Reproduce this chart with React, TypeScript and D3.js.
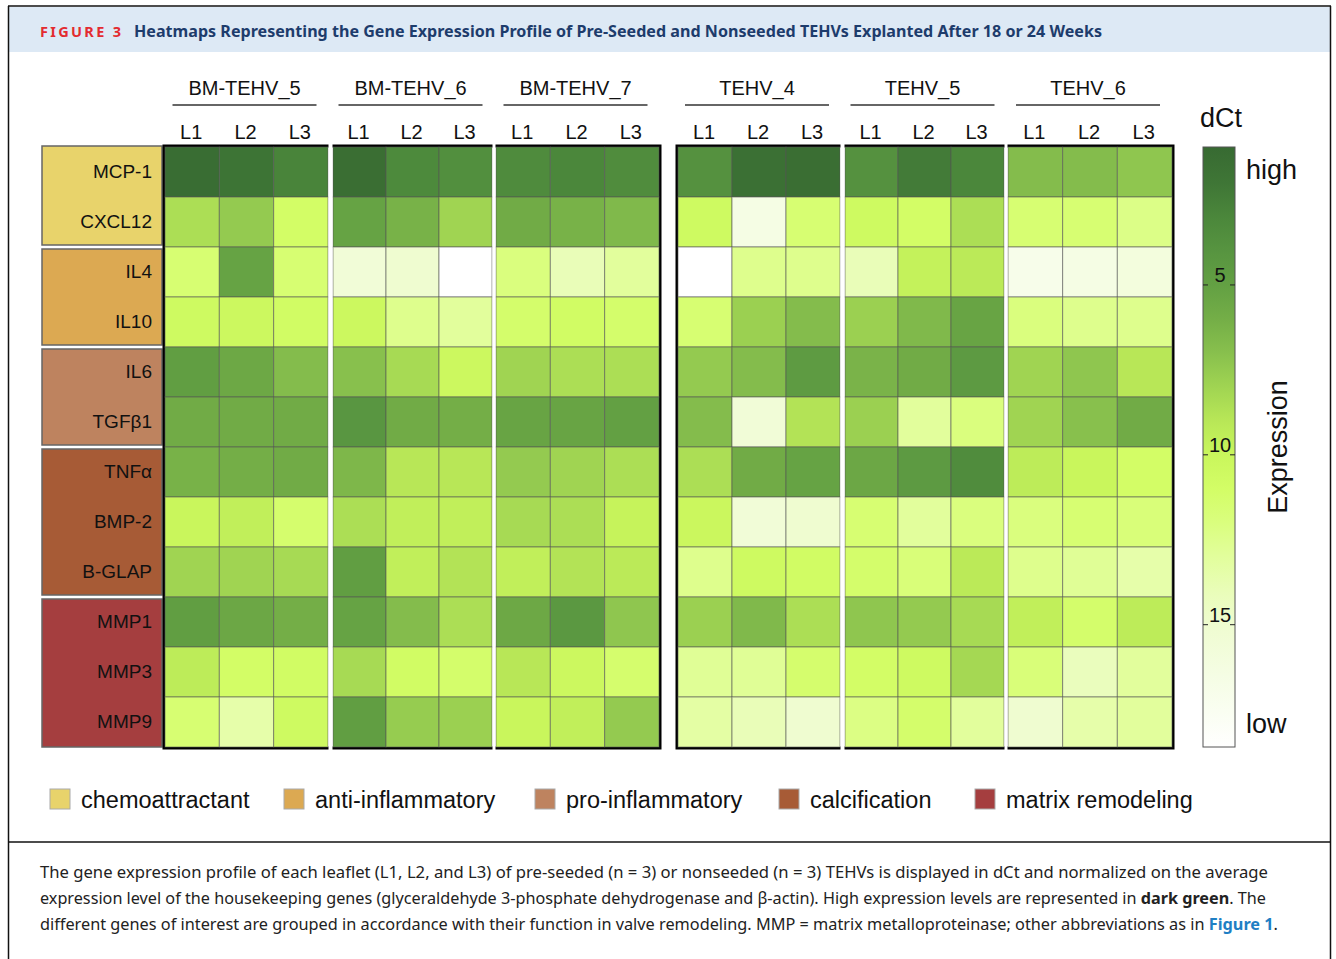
import React from 'react';
import * as d3 from 'd3';

// ---- data ----
const genes = ['MCP-1', 'CXCL12', 'IL4', 'IL10', 'IL6', 'TGFβ1', 'TNFα', 'BMP-2', 'B-GLAP', 'MMP1', 'MMP3', 'MMP9'];
const valves = ['BM-TEHV_5', 'BM-TEHV_6', 'BM-TEHV_7', 'TEHV_4', 'TEHV_5', 'TEHV_6'];
const leaflets = ['L1', 'L2', 'L3'];
const functionNames = ['chemoattractant', 'anti-inflammatory', 'pro-inflammatory', 'calcification', 'matrix remodeling'];
const functionGeneCount = [2, 2, 2, 3, 3];
const functionColors = ['#e8d36b', '#dca952', '#be835f', '#a75b36', '#a53e3f'];

// dCt, one row per gene, 18 columns (valve x leaflet)
const mcp1 = [1.2, 1.8, 2.8, 1.3, 3.2, 3.6, 3.3, 3.0, 3.4, 3.8, 1.5, 1.3, 3.8, 2.3, 3.0, 6.8, 6.8, 7.3];
const cxcl12 = [8.5, 7.5, 11.0, 5.2, 6.2, 8.0, 5.8, 6.2, 6.6, 10.5, 16.5, 11.5, 10.5, 11.0, 8.5, 11.5, 11.5, 12.3];
const il4 = [11.5, 5.2, 11.5, 15.5, 15.0, 18.6, 12.0, 14.0, 13.0, 18.6, 12.5, 12.5, 14.0, 9.7, 9.2, 17.0, 16.5, 16.0];
const il10 = [10.5, 10.3, 10.8, 10.3, 12.5, 13.0, 11.2, 10.8, 11.2, 11.5, 7.8, 6.8, 7.8, 6.6, 5.3, 12.0, 12.5, 12.5];
const il6 = [4.8, 5.6, 6.8, 7.0, 8.3, 10.3, 8.0, 8.5, 8.5, 7.5, 6.8, 4.6, 6.3, 5.8, 4.5, 8.0, 7.3, 9.0];
const tgfb1 = [5.8, 5.8, 5.8, 4.2, 5.8, 6.0, 5.3, 5.3, 5.0, 6.8, 15.5, 8.8, 7.8, 13.0, 12.0, 8.0, 7.0, 5.8];
const tnfa = [6.2, 6.0, 5.8, 6.5, 9.0, 9.0, 7.5, 8.0, 8.5, 8.5, 5.8, 5.2, 5.5, 4.5, 3.4, 9.3, 10.0, 11.0];
const bmp2 = [10.0, 9.5, 11.3, 8.5, 9.5, 9.5, 8.3, 8.5, 9.8, 10.2, 15.5, 15.0, 11.5, 13.0, 12.0, 12.0, 11.5, 11.8];
const bglap = [8.0, 8.0, 8.3, 4.8, 9.5, 8.8, 9.5, 8.8, 9.2, 12.5, 10.5, 10.8, 11.2, 11.8, 9.2, 12.5, 12.8, 13.5];
const mmp1 = [4.8, 5.5, 6.0, 5.2, 6.8, 8.5, 5.6, 4.3, 7.3, 7.8, 6.6, 8.5, 7.3, 7.5, 8.3, 9.5, 11.2, 9.3];
const mmp3 = [9.3, 11.0, 10.8, 8.3, 10.8, 11.2, 9.0, 10.3, 11.3, 12.8, 12.8, 11.3, 11.0, 10.5, 8.2, 11.8, 14.2, 13.0];
const mmp9 = [11.5, 13.5, 10.5, 4.8, 7.6, 7.8, 10.0, 9.5, 7.5, 13.3, 14.0, 15.0, 12.2, 11.2, 13.0, 15.0, 13.5, 13.0];
const dctRows = [mcp1, cxcl12, il4, il10, il6, tgfb1, tnfa, bmp2, bglap, mmp1, mmp3, mmp9];

// colour ramp of the dCt bar
const rampDct = [0.94, 2, 3, 4, 5, 6, 7, 8, 9, 10, 11, 12, 13, 14, 15, 16.5, 18.6];
const rampColors = ['#376a32', '#3f7636', '#4b873b', '#579440', '#63a043', '#74ae47', '#88c04d', '#a0d452',
  '#b8e757', '#c9f65c', '#d3fd66', '#dafe7e', '#e2fe9c', '#e9fdb8', '#effcd0', '#f5fde4', '#ffffff'];
const barTicks = [5, 10, 15];

// ---- layout ----
const W = 1336;
const H = 959;
const blockX = [[165, 328], [333, 492], [496, 659], [678, 840], [845, 1004], [1008, 1172]];
const top = 147;
const bottom = 747;
const barX = 1203;
const barW = 32;
const font = 'Liberation Sans, Arial, sans-serif';
const capFont = 'Noto Sans, Open Sans, sans-serif';

const color = d3.scaleLinear<string>().domain(rampDct).range(rampColors).interpolate(d3.interpolateRgb);
const y = d3.scaleBand().domain(genes).range([top, bottom]);
const barY = d3.scaleLinear().domain([rampDct[0], rampDct[rampDct.length - 1]]).range([top, bottom]);
const xScales = blockX.map(([a, b]) => d3.scaleBand().domain(leaflets).range([a, b]));

const legendX = [50, 284, 535, 779, 975];

export default function App() {
  // group boxes on the left
  let start = 0;
  const groups = functionGeneCount.map((n, i) => {
    const g = { i, first: genes[start], last: genes[start + n - 1] };
    start += n;
    return g;
  });

  return (
    <svg width={W} height={H} style={{ position: 'absolute', left: 0, top: 0, background: '#fff' }} fontFamily={font}>
      <defs>
        <linearGradient id="bar" x1="0" y1="0" x2="0" y2="1">
          {rampDct.map((d, i) => (
            <stop key={i} offset={(barY(d) - top) / (bottom - top)} stopColor={rampColors[i]} />
          ))}
        </linearGradient>
      </defs>

      {/* frame + header */}
      <rect x={9} y={7} width={1321} height={45} fill="#dde9f5" />
      <line x1={8} x2={1331} y1={6} y2={6} stroke="#111" strokeWidth={1.5} />
      <line x1={8.5} x2={8.5} y1={6} y2={H} stroke="#111" strokeWidth={1.5} />
      <line x1={1330.5} x2={1330.5} y1={6} y2={H} stroke="#111" strokeWidth={1.5} />
      <line x1={8} x2={1331} y1={842} y2={842} stroke="#111" strokeWidth={1.5} />
      <text x={40} y={37} fontFamily={capFont} fontWeight={700} fontSize={14.5} fill="#e32b30"
        textLength={81} lengthAdjust="spacing">FIGURE 3</text>
      <text x={134} y={37} fontFamily={capFont} fontWeight={700} fontSize={16} fill="#1d3c6c"
        textLength={968} lengthAdjust="spacingAndGlyphs">
        Heatmaps Representing the Gene Expression Profile of Pre-Seeded and Nonseeded TEHVs Explanted After 18 or 24 Weeks
      </text>

      {/* row group boxes */}
      {groups.map(g => (
        <rect key={g.i} x={42} width={120}
          y={(y(g.first) as number) + (g.i === 0 ? -1 : 2)}
          height={(y(g.last) as number) + y.bandwidth() - (y(g.first) as number) - (g.i === 0 ? 1 : 4) + (g.i === 4 ? 2 : 0)}
          fill={functionColors[g.i]} stroke="#666" strokeWidth={1.5} />
      ))}
      {genes.map(gn => (
        <text key={gn} x={152} y={(y(gn) as number) + y.bandwidth() / 2 + 6} fontSize={19} textAnchor="end" fill="#111">{gn}</text>
      ))}

      {/* group frames */}
      {[[0, 2], [3, 5]].map(([a, b], i) => (
        <rect key={i} x={blockX[a][0] - 1} y={top - 1} width={blockX[b][1] - blockX[a][0] + 2} height={bottom - top + 2}
          fill="none" stroke="#000" strokeWidth={3} />
      ))}

      {/* cells */}
      {valves.map((v, vi) => (
        <g key={v}>
          {genes.map((gn, gi) =>
            leaflets.map((l, li) => (
              <rect key={gn + l} x={xScales[vi](l)} y={y(gn)} width={xScales[vi].bandwidth()} height={y.bandwidth()}
                fill={color(dctRows[gi][vi * 3 + li])} stroke="#555" strokeOpacity={0.6} strokeWidth={1} />
            ))
          )}
          {leaflets.map(l => (
            <text key={l} x={(xScales[vi](l) as number) + xScales[vi].bandwidth() / 2 - 1} y={139} fontSize={20} textAnchor="middle" fill="#111">{l}</text>
          ))}
          <text x={(blockX[vi][0] + blockX[vi][1]) / 2 - 2} y={95} fontSize={20} textAnchor="middle" fill="#111">{v}</text>
          <line x1={(blockX[vi][0] + blockX[vi][1]) / 2 - 74} x2={(blockX[vi][0] + blockX[vi][1]) / 2 + 70} y1={105} y2={105} stroke="#333" strokeWidth={1.5} />
        </g>
      ))}

      {/* white gaps between valves */}
      {[0, 1, 3, 4].map(i => (
        <rect key={i} x={blockX[i][1] + 0.5} y={top - 4} width={blockX[i + 1][0] - blockX[i][1] - 1} height={bottom - top + 8} fill="#fff" />
      ))}

      {/* colour bar */}
      <rect x={barX} y={top} width={barW} height={bottom - top} fill="url(#bar)" stroke="#555" strokeWidth={1} />
      {barTicks.map(t => (
        <g key={t}>
          <line x1={barX} x2={barX + 5} y1={barY(t)} y2={barY(t)} stroke="#222" />
          <line x1={barX + barW - 5} x2={barX + barW} y1={barY(t)} y2={barY(t)} stroke="#222" />
          <text x={barX + barW / 2 + 1} y={barY(t) - 3} fontSize={20} textAnchor="middle" fill="#111">{t}</text>
        </g>
      ))}
      <text x={1200} y={127} fontSize={27} fill="#111">dCt</text>
      <text x={1246} y={179} fontSize={27} fill="#111">high</text>
      <text x={1246} y={733} fontSize={27} fill="#111">low</text>
      <text transform={`translate(1287,${(top + bottom) / 2}) rotate(-90)`} fontSize={27} textAnchor="middle" fill="#111">Expression</text>

      {/* legend */}
      {functionNames.map((f, i) => (
        <g key={f}>
          <rect x={legendX[i]} y={789} width={20} height={20} fill={functionColors[i]} stroke="#aaa" strokeWidth={1} />
          <text x={legendX[i] + 31} y={808} fontSize={23.5} fill="#111">{f}</text>
        </g>
      ))}

      {/* caption */}
      <g fontFamily={capFont} fontSize={16} fill="#222">
        <text x={40} y={878} textLength={1228} lengthAdjust="spacingAndGlyphs">
          The gene expression profile of each leaflet (L1, L2, and L3) of pre-seeded (n = 3) or nonseeded (n = 3) TEHVs is displayed in dCt and normalized on the average
        </text>
        <text x={40} y={904} textLength={1226} lengthAdjust="spacingAndGlyphs">
          expression level of the housekeeping genes (glyceraldehyde 3-phosphate dehydrogenase and β-actin). High expression levels are represented in <tspan fontWeight={700}>dark green</tspan>. The
        </text>
        <text x={40} y={930} textLength={1238} lengthAdjust="spacingAndGlyphs">
          different genes of interest are grouped in accordance with their function in valve remodeling. MMP = matrix metalloproteinase; other abbreviations as in <tspan fontWeight={700} fill="#1f7fc4">Figure 1</tspan>.
        </text>
      </g>
    </svg>
  );
}
